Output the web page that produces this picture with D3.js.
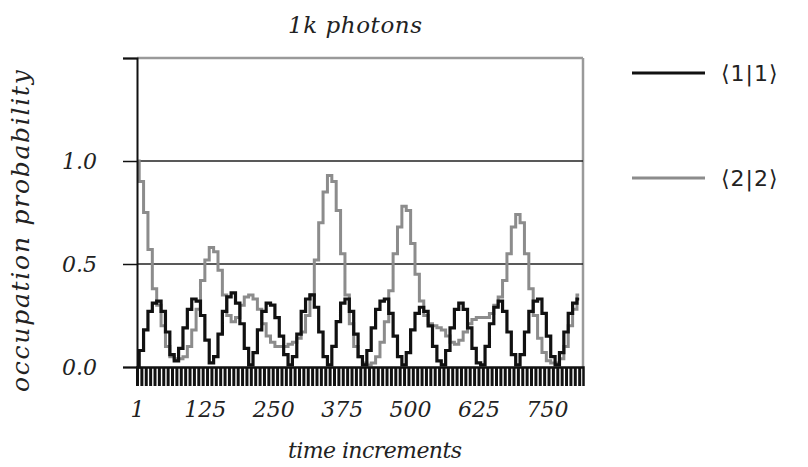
<!DOCTYPE html>
<html><head><meta charset="utf-8">
<script src="https://cdn.jsdelivr.net/npm/d3@7"></script>
<style>body{margin:0;background:#fff}svg{display:block}</style>
</head><body>
<script>
// ---- data ----
const title = "1k photons";
const xTitle = "time increments";
const yTitle = "occupation probability";
const seriesNames = ["\u27E81|1\u27E9", "\u27E82|2\u27E9"];
const timeStart = 1, timeStep = 8;
const xLabels = [1, 125, 250, 375, 500, 625, 750];
const yTicks = [0, 0.5, 1.0, 1.5];
const yTickLabels = ["0.0", "0.5", "1.0", ""];
const occ11 = [
  0.00,0.08,0.18,0.27,0.31,0.32,0.27,0.17,0.06,0.03,
  0.09,0.19,0.28,0.33,0.32,0.25,0.13,0.02,0.05,0.16,
  0.27,0.34,0.36,0.31,0.21,0.09,0.01,0.07,0.18,0.27,
  0.31,0.30,0.24,0.15,0.06,0.01,0.05,0.16,0.27,0.33,
  0.35,0.29,0.17,0.05,0.01,0.10,0.22,0.31,0.33,0.27,
  0.16,0.05,0.01,0.08,0.19,0.28,0.32,0.33,0.26,0.15,
  0.05,0.01,0.07,0.18,0.26,0.29,0.27,0.20,0.10,0.03,
  0.01,0.08,0.19,0.28,0.31,0.28,0.19,0.09,0.02,0.01,
  0.10,0.21,0.29,0.32,0.27,0.17,0.06,0.01,0.06,0.17,
  0.27,0.32,0.33,0.26,0.15,0.05,0.01,0.07,0.17,0.26,
  0.31,0.33
];
const occ22 = [
  1.00,0.90,0.75,0.57,0.38,0.30,0.20,0.10,0.05,0.04,
  0.04,0.05,0.10,0.18,0.28,0.42,0.52,0.58,0.56,0.47,
  0.35,0.25,0.22,0.24,0.30,0.34,0.35,0.33,0.28,0.21,
  0.15,0.12,0.10,0.10,0.10,0.11,0.12,0.14,0.17,0.25,
  0.35,0.52,0.70,0.85,0.93,0.90,0.76,0.55,0.35,0.21,
  0.10,0.05,0.02,0.01,0.02,0.05,0.12,0.22,0.37,0.55,
  0.68,0.78,0.76,0.60,0.45,0.32,0.25,0.21,0.20,0.19,
  0.18,0.15,0.12,0.11,0.13,0.17,0.21,0.23,0.24,0.24,
  0.24,0.26,0.30,0.34,0.42,0.55,0.68,0.74,0.70,0.55,
  0.38,0.25,0.14,0.07,0.03,0.02,0.02,0.04,0.10,0.20,
  0.28,0.35
];

// ---- chart ----
const W = 808, H = 467;
const svg = d3.select("body").append("svg").attr("width", W).attr("height", H);
const serif = "'DejaVu Serif', serif";

const x = d3.scaleLinear().domain([1, 816]).range([137, 583]);
const y = d3.scaleLinear().domain([0, 1.5]).range([367, 58]);

const times = occ11.map((_, i) => timeStart + i * timeStep);

// frame: top & right border (grey)
svg.append("line").attr("x1", x(1)).attr("x2", x(816)).attr("y1", y(1.5)).attr("y2", y(1.5))
  .attr("stroke", "#9a9a9a").attr("stroke-width", 2.5);
svg.append("line").attr("x1", x(816)).attr("x2", x(816)).attr("y1", y(1.5)).attr("y2", y(0))
  .attr("stroke", "#9a9a9a").attr("stroke-width", 2.5);

// gridlines
svg.append("g").selectAll("line").data([0.5, 1.0]).join("line")
  .attr("x1", x(1)).attr("x2", x(816)).attr("y1", d => y(d)).attr("y2", d => y(d))
  .attr("stroke", "#222").attr("stroke-width", 1.3);

// lines
const line = d3.line().curve(d3.curveStep).x((d, i) => x(times[i])).y(d => y(d));
svg.append("path").datum(occ22).attr("d", line).attr("fill", "none")
  .attr("stroke", "#8c8c8c").attr("stroke-width", 3);
svg.append("path").datum(occ11).attr("d", line).attr("fill", "none")
  .attr("stroke", "#111").attr("stroke-width", 3.2);

// x axis dense ticks
const xAxisTicks = d3.axisBottom(x).tickValues(d3.range(1, 816, 8)).tickSize(19).tickFormat("");
const gx = svg.append("g").attr("transform", `translate(0,${y(0)})`).call(xAxisTicks);
gx.select(".domain").attr("stroke", "#111").attr("stroke-width", 2.5);
gx.selectAll(".tick line").attr("stroke", "#111").attr("stroke-width", 3);

// x labels
const xAxisLabels = d3.axisBottom(x).tickValues(xLabels).tickSize(0).tickPadding(34).tickFormat(d => String(d));
const gxl = svg.append("g").attr("transform", `translate(0,${y(0)})`).call(xAxisLabels);
gxl.select(".domain").remove();
gxl.selectAll("text").attr("font-family", serif).attr("font-style", "italic")
  .attr("font-size", 22).attr("fill", "#222");

// y axis
const yAxis = d3.axisLeft(y).tickValues(yTicks).tickSize(14).tickPadding(26)
  .tickFormat((d, i) => yTickLabels[i]);
const gy = svg.append("g").attr("transform", `translate(${x(1)},0)`).call(yAxis);
gy.select(".domain").attr("stroke", "#111").attr("stroke-width", 2);
gy.selectAll(".tick line").attr("stroke", "#111").attr("stroke-width", 1.5);
gy.selectAll("text").attr("font-family", serif).attr("font-style", "italic")
  .attr("font-size", 22).attr("fill", "#222");

// titles
svg.append("text").attr("x", 355).attr("y", 33).attr("text-anchor", "middle")
  .attr("font-family", serif).attr("font-style", "italic").attr("font-size", 23).attr("fill", "#222")
  .attr("textLength", 134).attr("lengthAdjust", "spacing")
  .text(title);
svg.append("text").attr("x", 375).attr("y", 458).attr("text-anchor", "middle")
  .attr("font-family", serif).attr("font-style", "italic").attr("font-size", 22).attr("fill", "#222")
  .attr("textLength", 174).attr("lengthAdjust", "spacing")
  .text(xTitle);
svg.append("text").attr("transform", "translate(29,231) rotate(-90)").attr("text-anchor", "middle")
  .attr("font-family", serif).attr("font-style", "italic").attr("font-size", 25).attr("fill", "#222")
  .attr("textLength", 322).attr("lengthAdjust", "spacing")
  .text(yTitle);

// legend
const legColors = ["#111", "#8c8c8c"];
const legY = [73, 178];
const leg = svg.append("g").selectAll("g").data(seriesNames).join("g")
  .attr("transform", (d, i) => `translate(0,${legY[i]})`);
leg.append("line").attr("x1", 632).attr("x2", 705).attr("y1", 0).attr("y2", 0)
  .attr("stroke", (d, i) => legColors[i]).attr("stroke-width", 3);
leg.append("text").attr("x", 721).attr("y", 8).attr("font-family", "'DejaVu Sans', sans-serif")
  .attr("font-size", 22).attr("fill", "#222").attr("letter-spacing", 1).text(d => d);
</script>
</body></html>
